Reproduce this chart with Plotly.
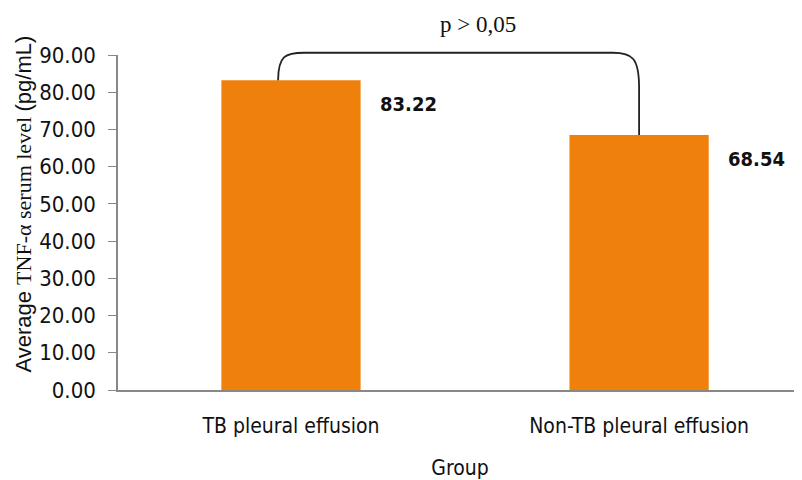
import plotly.graph_objects as go

categories = ["TB pleural effusion", "Non-TB pleural effusion"]
values = [83.22, 68.54]
value_labels = ["83.22", "68.54"]
y_ticks = [0, 10, 20, 30, 40, 50, 60, 70, 80, 90]
y_tick_labels = [f"{v:.2f}" for v in y_ticks]
p_text = "p > 0,05"

YMAX = 90
ORANGE = "#F0800C"
SANS = "DejaVu Sans Condensed, Liberation Sans Narrow, Roboto, sans-serif"
ARIAL = "Liberation Sans, Arial, sans-serif"
SERIF = "Liberation Serif, Times New Roman, serif"

fig = go.Figure()
fig.add_trace(go.Bar(
    x=categories, y=values, width=0.4,
    marker=dict(color=ORANGE, line=dict(width=0)),
    hoverinfo="skip",
))

# value labels to the right of bars
for c, v, t in zip(categories, values, value_labels):
    fig.add_annotation(x=c, y=v, text=f"<b>{t}</b>", showarrow=False,
                       xref="x", yref="y", xanchor="left", yanchor="top",
                       xshift=87, yshift=-10,
                       font=dict(family=SANS, size=20, color="#111"))

# significance bracket (paper y to avoid clipping)
top = 90.6 / YMAX
y1a = values[0] / YMAX
y2a = values[1] / YMAX
xl, xr = -0.037, 1.0
right_bend = 81.2 / YMAX
path = (f"M {xl},{y1a} C {xl},{top - 0.01} {xl + 0.02},{top} {xl + 0.075},{top} "
        f"L {xr - 0.075},{top} C {xr - 0.02},{top} {xr},{top - 0.015} {xr},{right_bend} "
        f"L {xr},{y2a}")
fig.add_shape(type="path", path=path, xref="x", yref="paper",
              line=dict(color="#222", width=1.8))

fig.add_annotation(x=0.5, y=1, xref="x", yref="paper", text=p_text,
                   showarrow=False, yanchor="bottom", yshift=16, xshift=13,
                   font=dict(family=SERIF, size=23, color="#111"))

# y-axis title (mixed fonts)
fig.add_annotation(
    x=0, y=0.555, xref="paper", yref="paper", xanchor="right", yanchor="middle",
    xshift=-80, textangle=-90, showarrow=False,
    text=(f"<span style='font-family:{ARIAL}'>Average </span>"
          f"<span style='font-family:{SERIF}'>TNF-α serum level </span>"
          f"<span style='font-family:{ARIAL}'>(pg/mL)</span>"),
    font=dict(size=22, color="#111"))

fig.update_layout(
    width=794, height=472,
    margin=dict(l=110, r=0, t=47, b=90),
    plot_bgcolor="white", paper_bgcolor="white",
    showlegend=False,
)
fig.update_xaxes(
    range=[-0.497, 1.468], showline=True, linecolor="#888", linewidth=1.5,
    ticks="", showgrid=False, zeroline=False, ticklabelstandoff=16,
    tickfont=dict(family=SANS, size=21, color="#111"),
    title=dict(text="Group", font=dict(family=SANS, size=21, color="#111"),
               standoff=26),
)
fig.update_yaxes(
    range=[0, YMAX], tickvals=y_ticks, ticktext=y_tick_labels,
    showline=True, linecolor="#888", linewidth=1.5,
    ticks="outside", ticklen=8, tickcolor="#888", tickwidth=1.2,
    showgrid=False, zeroline=False, ticklabelstandoff=8,
    tickfont=dict(family=SANS, size=22, color="#111"),
)

fig.write_html("out.html")
